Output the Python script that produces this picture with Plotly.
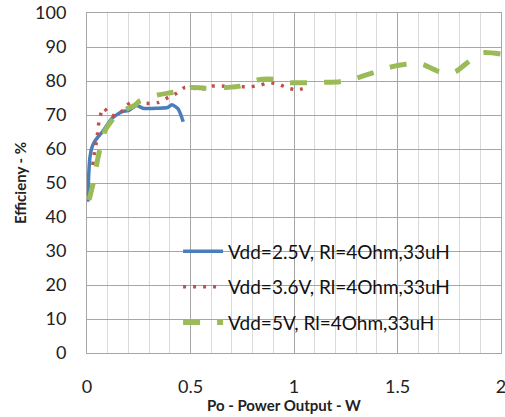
import plotly.graph_objects as go

# Vdd = 2.5 V
x_25 = [0.004, 0.008, 0.014, 0.024, 0.04, 0.08, 0.12, 0.17, 0.20, 0.24, 0.27, 0.34, 0.39, 0.41, 0.44, 0.465]
y_25 = [44.5, 52.0, 57.5, 60.5, 62.5, 65.5, 69.0, 71.0, 71.3, 72.8, 72.0, 72.0, 72.2, 73.0, 71.8, 68.0]

# Vdd = 3.6 V
x_36 = [0.028, 0.034, 0.043, 0.05, 0.055, 0.063, 0.079, 0.111, 0.143, 0.175, 0.208, 0.304, 0.344, 0.393,
        0.433, 0.473, 0.554, 0.602, 0.651, 0.699, 0.747, 0.791, 0.836, 0.881, 0.928, 0.970, 1.016, 1.061]
y_36 = [55.3, 58.2, 61.2, 64.1, 66.9, 69.5, 72.1, 70.2, 69.7, 71.5, 73.6, 73.4, 73.7, 75.2,
        76.4, 78.1, 77.6, 78.5, 78.5, 78.3, 78.3, 78.3, 78.8, 79.5, 79.0, 77.9, 77.4, 78.1]

# Vdd = 5 V
x_5 = [0.01, 0.03, 0.055, 0.088, 0.15, 0.20, 0.232, 0.256, 0.344, 0.433, 0.50, 0.57, 0.67, 0.74,
       0.823, 0.90, 0.98, 1.06, 1.145, 1.22, 1.30, 1.38, 1.46, 1.54, 1.62, 1.70, 1.74, 1.78, 1.84, 1.91, 2.0]
y_5 = [45.0, 50.0, 58.0, 65.5, 70.5, 72.0, 72.9, 74.2, 75.9, 76.9, 78.1, 77.9, 78.1, 78.5,
       80.3, 80.5, 79.5, 79.5, 79.6, 79.8, 80.8, 82.4, 84.0, 84.9, 84.9, 82.7, 82.2, 82.7, 85.5, 88.3, 87.9]

names = ["Vdd=2.5V, Rl=4Ohm,33uH", "Vdd=3.6V, Rl=4Ohm,33uH", "Vdd=5V, Rl=4Ohm,33uH"]

x_ticks = [0, 0.5, 1, 1.5, 2]
x_tick_text = ["0", "0.5", "1", "1.5", "2"]
y_ticks = [0, 10, 20, 30, 40, 50, 60, 70, 80, 90, 100]
x_title = "Po - Power Output - W"
y_title = "Efficieny - %"

FONT = "Lato, 'Open Sans', sans-serif"

fig = go.Figure()
fig.add_trace(go.Scatter(x=x_25, y=y_25, mode="lines", name=names[0], legendgroup="a",
                         line=dict(color="#4A7EBB", width=3.5, shape="spline", smoothing=0.6)))
fig.add_trace(go.Scatter(x=x_36, y=y_36, mode="lines", name=names[1], legendgroup="b",
                         line=dict(color="#C0504D", width=3.5, dash="3px,7px", shape="spline", smoothing=0.6)))
fig.add_trace(go.Scatter(x=x_5, y=y_5, mode="lines", name=names[2], legendgroup="c",
                         line=dict(color="#9BBB59", width=5, dash="17px,17px", shape="spline", smoothing=0.6)))

fig.update_layout(
    width=505, height=417,
    margin=dict(l=87, r=4, t=13, b=64, autoexpand=False),
    paper_bgcolor="white", plot_bgcolor="white",
    font=dict(family=FONT, size=18, color="#222222"),
    showlegend=True,
    legend=dict(x=0.22, y=0.355, xanchor="left", yanchor="top", bgcolor="rgba(0,0,0,0)",
                font=dict(size=19, color="#111111"), tracegroupgap=8, itemwidth=40),
    xaxis=dict(range=[0, 2], tickvals=x_ticks, ticktext=x_tick_text, automargin=False,
               showgrid=True, gridcolor="#A6A6A6", gridwidth=1,
               minor=dict(dtick=0.1, showgrid=True, gridcolor="#D9D9D9", gridwidth=1),
               showline=True, linecolor="#A6A6A6", mirror=True, zeroline=False,
               ticks="", ticklabelstandoff=17, tickfont=dict(size=18), ticklabeloverflow="allow"),
    yaxis=dict(range=[0, 100], tickvals=y_ticks, automargin=False,
               showgrid=True, gridcolor="#A6A6A6", gridwidth=1,
               showline=True, linecolor="#A6A6A6", mirror=True, zeroline=False,
               ticks="", ticklabelstandoff=16, tickfont=dict(size=18),
               title=dict(text="<b>" + y_title + "</b>", font=dict(size=15), standoff=4)),
    annotations=[dict(text="<b>" + x_title + "</b>", xref="paper", yref="paper",
                      x=0.476, y=-0.152, xanchor="center", yanchor="middle",
                      showarrow=False, font=dict(size=15, color="#222222"))],
)

fig.write_html(
    "out.html",
    config={"displayModeBar": False},
    post_script="document.body.style.margin='0';document.body.style.overflow='hidden';",
)
